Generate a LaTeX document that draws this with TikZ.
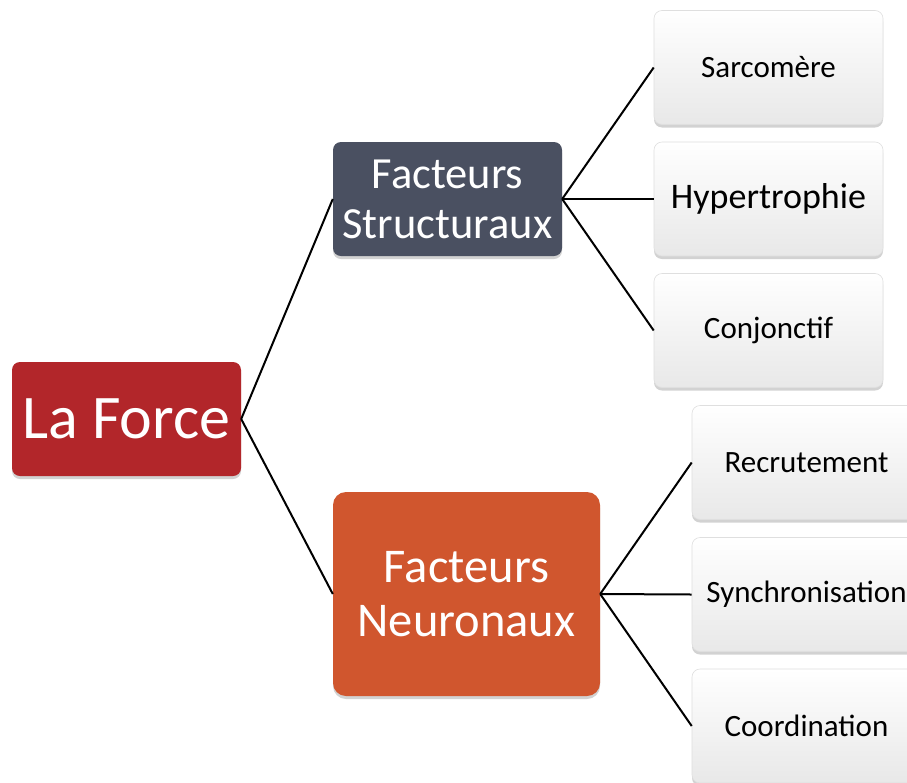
\documentclass[tikz,border=0pt]{standalone}
\usepackage{fontspec}
\setmainfont{Carlito}
\usepackage{tikz}
\usetikzlibrary{shadows}
\usepackage{xcolor}
\definecolor{forcered}{RGB}{178,38,42}
\definecolor{slate}{RGB}{74,80,97}
\definecolor{rust}{RGB}{208,86,46}

\begin{document}
\begin{tikzpicture}[
    x=1pt,y=-1pt,
    main/.style={rounded corners=8pt,text=white,align=center,inner sep=0pt,
      drop shadow={shadow xshift=0pt,shadow yshift=-3pt,opacity=.35}},
    leaf/.style={rounded corners=8pt,draw=gray!25,line width=.6pt,top color=white,bottom color=gray!18,
      minimum width=229pt,minimum height=114pt,inner sep=0pt,text=black,
      drop shadow={shadow xshift=0pt,shadow yshift=-3pt,opacity=.35}},
    e/.style={line width=2pt,black}
  ]
    \clip (0,0) rectangle (907,782);
    \fill[white] (0,0) rectangle (907,782);
    % root and the two branches
    \node[main,fill=forcered,minimum width=229pt,minimum height=114pt,font=\fontsize{62}{70}\selectfont] (lf) at (126.5,419) {La Force};
    \node[main,fill=slate,minimum width=229pt,minimum height=114pt,font=\fontsize{44.5}{50}\selectfont] (fs) at (447.5,199) {Facteurs\\Structuraux};
    \node[main,fill=rust,rounded corners=13pt,minimum width=267pt,minimum height=204pt,font=\fontsize{48.5}{54}\selectfont] (fn) at (466.5,594) {Facteurs\\Neuronaux};
    % leaves
    \node[leaf,font=\fontsize{31}{36}\selectfont] (s1) at (768.5,67.5) {Sarcomère};
    \node[leaf,font=\fontsize{36}{42}\selectfont] (s2) at (768.5,199) {Hypertrophie};
    \node[leaf,font=\fontsize{31}{36}\selectfont] (s3) at (768.5,330.5) {Conjonctif};
    \node[leaf,font=\fontsize{31}{36}\selectfont] (n1) at (806.5,462.5) {Recrutement};
    \node[leaf,font=\fontsize{31}{36}\selectfont] (n2) at (806.5,594.5) {Synchronisation};
    \node[leaf,font=\fontsize{31}{36}\selectfont] (n3) at (806.5,726) {Coordination};
    \foreach \s/\t in {lf/fs,lf/fn,fs/s1,fs/s2,fs/s3,fn/n1,fn/n2,fn/n3} {\draw[e] (\s.east)--(\t.west);}
  \end{tikzpicture}
\end{document}
